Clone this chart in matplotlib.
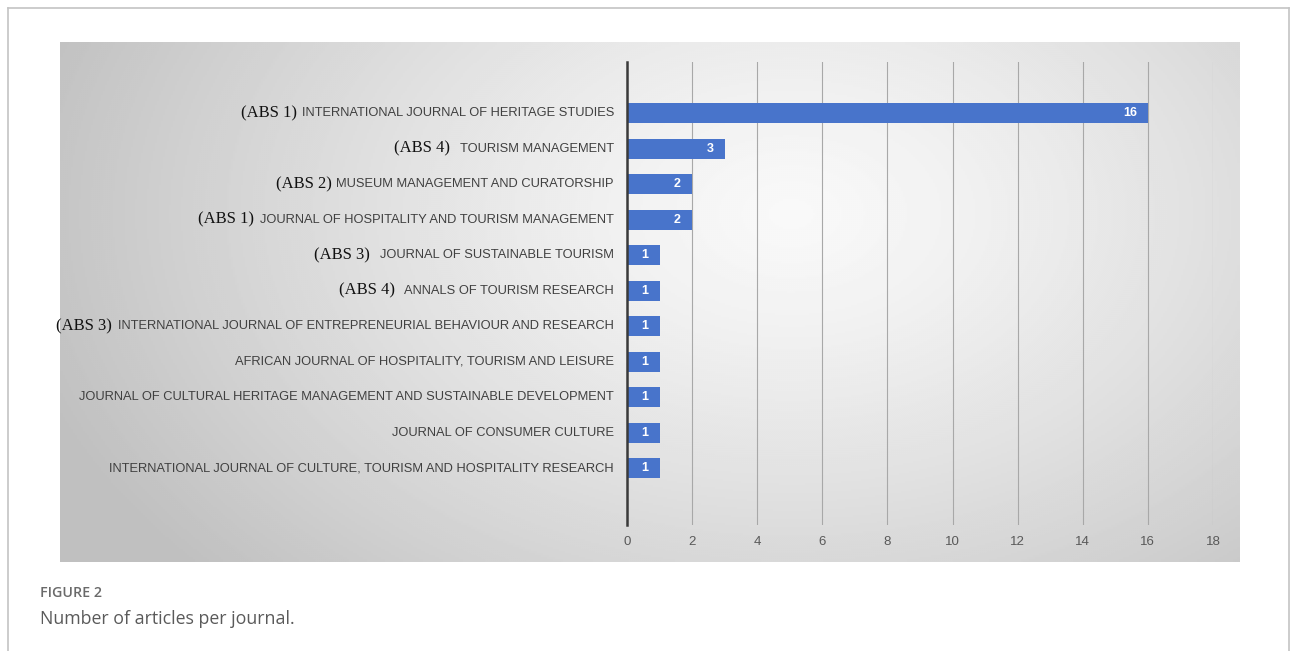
import matplotlib
matplotlib.use("Agg")
import matplotlib.pyplot as plt
import numpy as np
from matplotlib import transforms
from matplotlib.lines import Line2D

# ---------------- data ----------------
journals = [
    "INTERNATIONAL JOURNAL OF HERITAGE STUDIES",
    "TOURISM MANAGEMENT",
    "MUSEUM MANAGEMENT AND CURATORSHIP",
    "JOURNAL OF HOSPITALITY AND TOURISM MANAGEMENT",
    "JOURNAL OF SUSTAINABLE TOURISM",
    "ANNALS OF TOURISM RESEARCH",
    "INTERNATIONAL JOURNAL OF ENTREPRENEURIAL BEHAVIOUR AND RESEARCH",
    "AFRICAN JOURNAL OF HOSPITALITY, TOURISM AND LEISURE",
    "JOURNAL OF CULTURAL HERITAGE MANAGEMENT AND SUSTAINABLE DEVELOPMENT",
    "JOURNAL OF CONSUMER CULTURE",
    "INTERNATIONAL JOURNAL OF CULTURE, TOURISM AND HOSPITALITY RESEARCH",
]
abs_ranks = ["(ABS 1)", "(ABS 4)", "(ABS 2)", "(ABS 1)", "(ABS 3)", "(ABS 4)",
             "(ABS 3)", "", "", "", ""]
articles = [16, 3, 2, 2, 1, 1, 1, 1, 1, 1, 1]
xticks = [0, 2, 4, 6, 8, 10, 12, 14, 16, 18]
caption_label = "FIGURE 2"
caption_text = "Number of articles per journal."

# ---------------- layout / style ----------------
W, H = 1293, 651
prefix_gaps = [5, 10, 5, 6, 10, 9, 6, 0, 0, 0, 0]
BAR_COLOR = "#4874cb"

fig = plt.figure(figsize=(W / 100, H / 100), dpi=100)
fig.patch.set_facecolor("white")


def frame(x0, y0, x1, y1):
    return [x0 / W, 1 - y1 / H, (x1 - x0) / W, (y1 - y0) / H]


# outer border
for xs, ys in [([8, 8], [8, H + 5]), ([8, 1289], [8, 8]), ([1289, 1289], [8, H + 5])]:
    fig.add_artist(Line2D([x / W for x in xs], [1 - y / H for y in ys],
                          transform=fig.transFigure, color="#c4c4c4", lw=1.2))

# gradient chart area
bg = fig.add_axes(frame(60, 42, 1240, 562))
gx = np.linspace(0, 1, 590)
gy = np.linspace(0, 1, 260)
GX, GY = np.meshgrid(gx, gy)
r = np.sqrt(((GX - 0.62) / 0.62) ** 2 + ((GY - 0.33) / 0.95) ** 2)
v = np.clip(0.975 - 0.2 * r ** 1.3, 0.75, 1.0)
bg.imshow(v, cmap="gray", vmin=0, vmax=1, aspect="auto", extent=[0, 1, 1, 0],
          interpolation="bilinear")
bg.set_axis_off()

# main plot axes
ax = fig.add_axes(frame(627, 62, 1213, 525))
ax.set_facecolor("none")
ypos = np.arange(len(journals))
ax.barh(ypos, articles, height=0.56, color=BAR_COLOR, zorder=3)
ax.set_xlim(0, 18)
ax.set_ylim(11.6, -1.44)
ax.set_xticks(xticks)
ax.set_xticklabels([str(t) for t in xticks], fontsize=9.5, color="#595959",
                   family="Liberation Sans")
ax.tick_params(axis="x", length=0, pad=8)
ax.set_yticks([])
ax.xaxis.grid(True, color="#a8a8a8", lw=0.8)
ax.set_axisbelow(True)
for s in ["top", "right", "bottom"]:
    ax.spines[s].set_visible(False)
ax.spines["left"].set_color("#3a3a3a")
ax.spines["left"].set_linewidth(1.8)
ax.spines["left"].set_zorder(4)

# value labels
for y, val in zip(ypos, articles):
    ax.annotate(str(val), xy=(val, y), xytext=(-8, 0), textcoords="offset points",
                ha="right", va="center", color="white", fontsize=9,
                fontweight="bold", family="Liberation Sans", zorder=5)

# category names
name_texts = []
ytrans = ax.get_yaxis_transform()
for y, name in zip(ypos, journals):
    t = ax.text(-13 / 586, y, name, transform=ytrans, ha="right", va="center",
                fontsize=9.25, color="#404040", family="Liberation Sans", clip_on=False)
    name_texts.append(t)

fig.canvas.draw()
renderer = fig.canvas.get_renderer()
ptrans = transforms.blended_transform_factory(fig.transFigure, ax.transData)
for y, pre, t, gap in zip(ypos, abs_ranks, name_texts, prefix_gaps):
    if not pre:
        continue
    bb = t.get_window_extent(renderer)
    xf = (bb.x0 - gap) / fig.bbox.width
    ax.text(xf, y, pre, transform=ptrans, ha="right", va="center", fontsize=12,
            color="#111111", family="Liberation Serif", clip_on=False)

# caption
fig.text(40 / W, 1 - 593 / H, caption_label, ha="left", va="center", fontsize=10.3,
         color="#6a6a6a", family="Open Sans", fontweight="semibold")
fig.text(40 / W, 1 - 619 / H, caption_text, ha="left", va="center", fontsize=12.8,
         color="#5a5a5a", family="Open Sans")

fig.savefig("out.png", dpi=100)
